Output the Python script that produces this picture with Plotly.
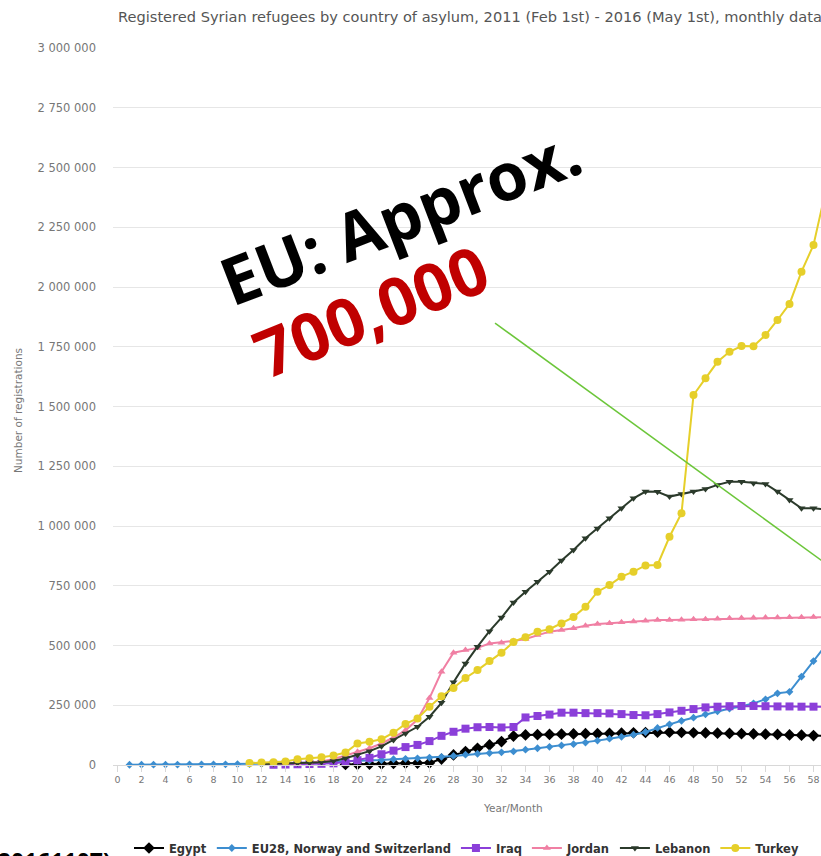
import plotly.graph_objects as go

# month index: 1 = Feb 2011
egypt_months = list(range(19, 60))
egypt = [2000, 3000, 4000, 5000, 7000, 8000, 8000, 9000, 25000, 42000,
         56000, 70000, 84000, 98000, 121000, 126000, 127000, 128000, 129000, 130000,
         131000, 131000, 132000, 133000, 135000, 136000, 137000, 137000, 136000, 135000,
         134000, 133000, 132000, 131000, 130000, 129000, 128000, 126000, 125000, 123000,
         122000]

eu_months = list(range(1, 60))
eu28 = [1000, 1200, 1400, 1600, 1800, 2000, 2300, 2600, 3000, 3500,
        4000, 5000, 6000, 7000, 8500, 10000, 11500, 13000, 15000, 17000,
        19000, 21000, 24000, 26000, 28000, 31000, 34000, 38000, 43000, 47000,
        50000, 53000, 57000, 64000, 70000, 76000, 82000, 87000, 94000, 102000,
        110000, 118000, 127000, 138000, 155000, 170000, 185000, 198000, 212000, 225000,
        236000, 245000, 258000, 275000, 300000, 306000, 370000, 435000, 500000]

iraq_months = list(range(13, 60))
iraq = [1000, 2000, 3000, 4000, 5000, 7000, 12000, 20000, 30000, 45000,
        60000, 75000, 84000, 100000, 122000, 139000, 152000, 158000, 159000, 157000,
        159000, 199000, 205000, 211000, 219000, 219000, 217000, 217000, 216000, 213000,
        209000, 208000, 213000, 220000, 227000, 234000, 241000, 244000, 246000, 247000,
        247000, 246000, 245000, 245000, 244000, 244000, 244000]

jordan_months = list(range(12, 60))
jordan = [3000, 4000, 5000, 7000, 10000, 15000, 25000, 40000, 55000, 70000,
          90000, 115000, 145000, 190000, 280000, 390000, 470000, 481000, 490000, 508000,
          512000, 519000, 527000, 544000, 558000, 565000, 572000, 583000, 590000, 593000,
          597000, 600000, 604000, 607000, 607000, 608000, 610000, 610000, 612000, 614000,
          615000, 616000, 617000, 617000, 618000, 618000, 619000, 619000]

lebanon_months = list(range(12, 60))
lebanon = [4000, 5000, 6000, 7000, 9000, 12000, 17000, 28000, 42000, 58000,
           78000, 105000, 132000, 160000, 202000, 260000, 346000, 425000, 495000, 560000,
           617000, 680000, 725000, 767000, 809000, 856000, 900000, 949000, 990000, 1032000,
           1074000, 1116000, 1144000, 1143000, 1123000, 1134000, 1144000, 1155000, 1172000, 1185000,
           1185000, 1179000, 1176000, 1144000, 1109000, 1074000, 1074000, 1070000]

turkey_months = list(range(11, 60))
turkey = [8000, 10000, 12000, 15000, 24000, 28000, 32000, 40000, 52000, 90000,
          97000, 108000, 135000, 172000, 195000, 244000, 288000, 322000, 364000, 397000,
          435000, 470000, 515000, 535000, 558000, 568000, 592000, 619000, 662000, 725000,
          753000, 788000, 809000, 835000, 837000, 955000, 1053000, 1548000, 1618000, 1687000,
          1729000, 1753000, 1752000, 1799000, 1862000, 1929000, 2064000, 2176000, 2400000]

FONT = 'DejaVu Sans'
BIG = 'Open Sans'
GRAY = '#777777'

# plot area in screen pixels
FIG_W, FIG_H = 821, 856
L, T, W, H = 113, 48, 708, 717


def px(x):
    return (x - L) / W


def py(y):
    return (T + H - y) / H


fig = go.Figure()

series = [
    ('Egypt', egypt_months, egypt, '#000000', 'diamond', 9),
    ('EU28, Norway and Switzerland', eu_months, eu28, '#3d8ed0', 'diamond', 6),
    ('Iraq', iraq_months, iraq, '#8b3fd9', 'square', 8),
    ('Jordan', jordan_months, jordan, '#f07fa3', 'triangle-up', 7),
    ('Lebanon', lebanon_months, lebanon, '#2b3a2b', 'triangle-down', 7),
    ('Turkey', turkey_months, turkey, '#e6cf2a', 'circle', 8),
]
for name, xs, ys, col, sym, size in series:
    fig.add_trace(go.Scatter(
        x=xs, y=ys, name=name, mode='lines+markers',
        line=dict(color=col, width=2),
        marker=dict(color=col, symbol=sym, size=size),
        cliponaxis=False,
    ))

# green pointer line
fig.add_shape(type='line', xref='x', yref='y',
              x0=31.46, y0=1849000, x1=60, y1=807000,
              line=dict(color='#6cc63a', width=1.5))

fig.add_annotation(text='<b>EU: Approx.</b>', xref='paper', yref='paper',
                   x=px(400), y=py(215), xanchor='center', yanchor='middle',
                   showarrow=False, textangle=-21,
                   font=dict(family=BIG, size=66, color='#000000'))
fig.add_annotation(text='<b>700,000</b>', xref='paper', yref='paper',
                   x=px(370), y=py(310), xanchor='center', yanchor='middle',
                   showarrow=False, textangle=-22,
                   font=dict(family=BIG, size=66, color='#c00000'))

fig.add_annotation(text='Registered Syrian refugees by country of asylum, 2011 (Feb 1st) - 2016 (May 1st), monthly data',
                   xref='paper', yref='paper', x=px(116), y=py(17),
                   xanchor='left', yanchor='middle', showarrow=False,
                   font=dict(family=FONT, size=14.6, color='#555555'))
fig.add_annotation(text='Year/Month', xref='paper', yref='paper',
                   x=px(513), y=py(808), xanchor='center', yanchor='middle',
                   showarrow=False, font=dict(family=FONT, size=10.5, color=GRAY))
fig.add_annotation(text='Number of registrations', xref='paper', yref='paper',
                   x=px(18), y=py(410), xanchor='center', yanchor='middle',
                   showarrow=False, textangle=-90,
                   font=dict(family=FONT, size=10.5, color=GRAY))
fig.add_annotation(text='<b>(20161107)</b>', xref='paper', yref='paper',
                   x=px(113), y=py(861), xanchor='right', yanchor='middle',
                   showarrow=False, font=dict(family=BIG, size=23, color='#000000'))

fig.update_layout(
    width=FIG_W, height=FIG_H,
    margin=dict(l=L, r=FIG_W - L - W, t=T, b=FIG_H - T - H, autoexpand=False),
    paper_bgcolor='white', plot_bgcolor='white',
    separators='. ',
    showlegend=True,
    legend=dict(orientation='h', x=px(129), y=py(848),
                xanchor='left', yanchor='middle',
                font=dict(family=FONT, size=11.5, color='#333333', weight='bold'),
                itemwidth=30, tracegroupgap=0),
    xaxis=dict(range=[-0.375, 58.625], dtick=2, tick0=0, showgrid=False,
               showline=True, linecolor='#d8d8d8', linewidth=1,
               ticks='outside', ticklen=6, tickcolor='#d8d8d8',
               tickfont=dict(family=FONT, size=9.5, color=GRAY),
               zeroline=False, automargin=False),
    yaxis=dict(range=[0, 3000000], dtick=250000, tickformat=',d',
               showgrid=True, gridcolor='#e6e6e6', zeroline=False,
               ticklabelstandoff=16, automargin=False,
               tickfont=dict(family=FONT, size=11.5, color=GRAY)),
)

fig.write_html('out.html', config={'displayModeBar': False},
               post_script="document.body.style.margin='0';document.body.style.overflow='hidden';")
